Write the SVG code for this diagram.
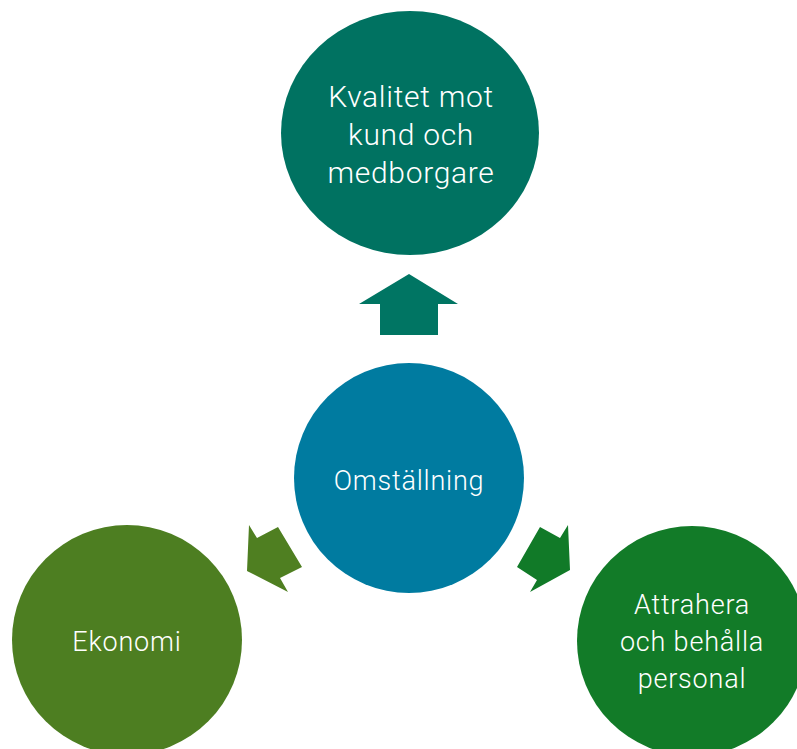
<svg xmlns="http://www.w3.org/2000/svg" width="797" height="749" viewBox="0 0 797 749">
<style>
.lbl{font-family:Roboto,"Open Sans",sans-serif;font-weight:300;font-size:27px;fill:#ffffff;text-anchor:middle;letter-spacing:0.8px}
.big{font-size:30px;letter-spacing:0.7px}
</style>
<rect width="797" height="749" fill="#ffffff"/>
<g id="connectors">
<polygon points="409,274 458,304 438,304 438,335 380,335 380,304 359,304" fill="#007563"/>
<polygon points="247,571 249,525 257,538 278,527 302,567 280,578 288,592" fill="#4F7F21"/>
<polygon points="570,570 568,525 560,538 540,527 517,567 537,580 530,592" fill="#117A28"/>
</g>
<g id="top">
<ellipse cx="410" cy="133" rx="129" ry="122" fill="#007261"/>
<text class="lbl big" x="411" y="107">Kvalitet mot</text>
<text class="lbl big" x="411" y="145">kund och</text>
<text class="lbl big" x="411" y="183">medborgare</text>
</g>
<g id="center">
<circle cx="409" cy="478" r="115" fill="#007BA0"/>
<text class="lbl" x="409" y="490">Omställning</text>
</g>
<g id="left">
<circle cx="127" cy="640" r="115" fill="#4D7E21"/>
<text class="lbl" x="127" y="651">Ekonomi</text>
</g>
<g id="right">
<circle cx="692" cy="641" r="115" fill="#127B28"/>
<text class="lbl" x="692" y="614">Attrahera</text>
<text class="lbl" x="692" y="651">och behålla</text>
<text class="lbl" x="692" y="688">personal</text>
</g>
</svg>
